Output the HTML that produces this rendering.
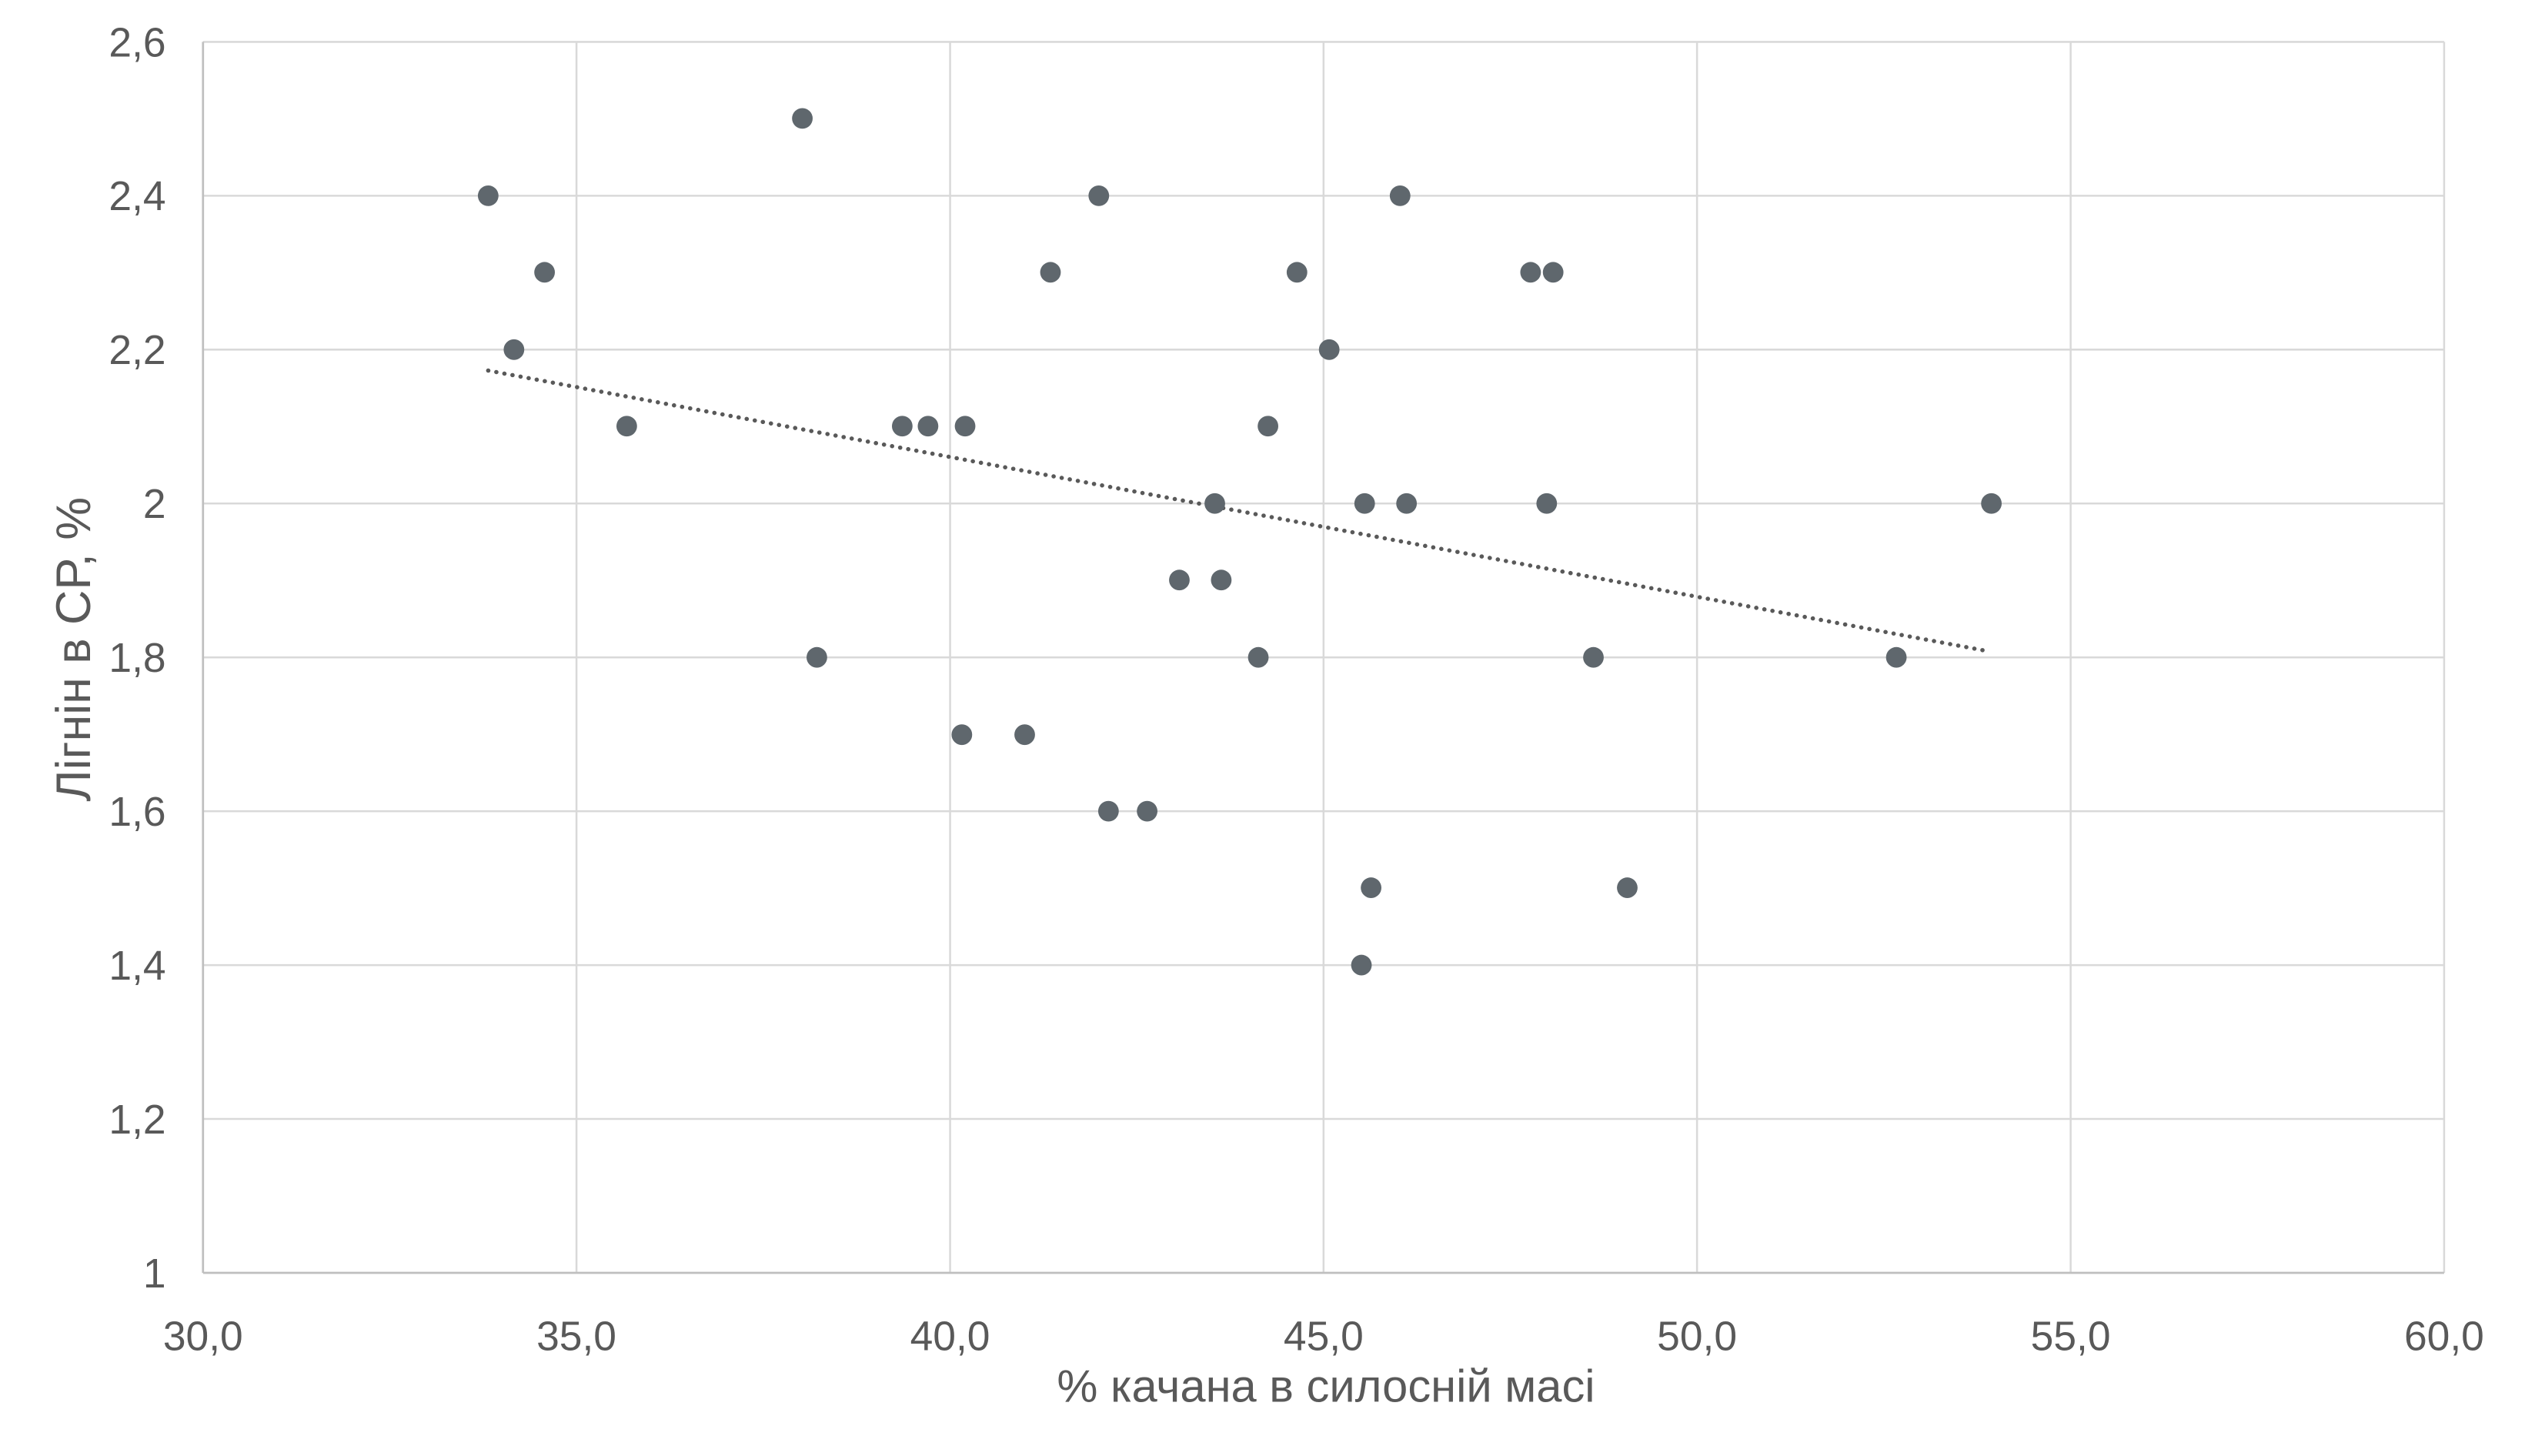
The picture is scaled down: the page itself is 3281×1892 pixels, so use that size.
<!DOCTYPE html>
<html><head><meta charset="utf-8"><style>html,body{margin:0;padding:0;background:#fff}svg{display:block}</style></head><body>
<svg width="3281" height="1892" viewBox="0 0 1567.2 903.7" preserveAspectRatio="none" xmlns="http://www.w3.org/2000/svg" font-family="Liberation Sans, DejaVu Sans, sans-serif" fill="#595959">
<g stroke="#d9d9d9" stroke-width="1.2">
<line x1="126" y1="26" x2="1517" y2="26"/><line x1="126" y1="121.5" x2="1517" y2="121.5"/><line x1="126" y1="217" x2="1517" y2="217"/><line x1="126" y1="312.5" x2="1517" y2="312.5"/><line x1="126" y1="408" x2="1517" y2="408"/><line x1="126" y1="503.5" x2="1517" y2="503.5"/><line x1="126" y1="599" x2="1517" y2="599"/><line x1="126" y1="694.5" x2="1517" y2="694.5"/>
<line x1="357.8" y1="26" x2="357.8" y2="790"/><line x1="589.7" y1="26" x2="589.7" y2="790"/><line x1="821.5" y1="26" x2="821.5" y2="790"/><line x1="1053.3" y1="26" x2="1053.3" y2="790"/><line x1="1285.2" y1="26" x2="1285.2" y2="790"/><line x1="1517" y1="26" x2="1517" y2="790"/>
</g>
<g stroke="#bfbfbf" stroke-width="1.3"><line x1="126" y1="26" x2="126" y2="790"/><line x1="126" y1="790" x2="1517" y2="790"/></g>
<g font-size="25.5" text-anchor="end">
<text x="103" y="35">2,6</text><text x="103" y="130.5">2,4</text><text x="103" y="226">2,2</text><text x="103" y="321.5">2</text><text x="103" y="417">1,8</text><text x="103" y="512.5">1,6</text><text x="103" y="608">1,4</text><text x="103" y="703.5">1,2</text><text x="103" y="799">1</text>
</g>
<g font-size="25.5" text-anchor="middle">
<text x="126" y="838">30,0</text><text x="357.8" y="838">35,0</text><text x="589.7" y="838">40,0</text><text x="821.5" y="838">45,0</text><text x="1053.3" y="838">50,0</text><text x="1285.2" y="838">55,0</text><text x="1517" y="838">60,0</text>
</g>
<g font-size="28.5" text-anchor="middle">
<text x="823" y="870">% качана в силосній масі</text>
<text transform="translate(56,403) rotate(-90)" font-size="30">Лігнін в СР, %</text>
</g>
<line x1="303" y1="230" x2="1233" y2="404" stroke="#595959" stroke-width="2.6" stroke-dasharray="0.1 5" stroke-linecap="round"/>
<g fill="#5f676d">
<circle cx="303" cy="121.5" r="6.4"/><circle cx="338" cy="169" r="6.4"/><circle cx="319" cy="217" r="6.4"/><circle cx="389" cy="264.5" r="6.4"/><circle cx="498" cy="73.5" r="6.4"/><circle cx="507" cy="408" r="6.4"/><circle cx="560" cy="264.5" r="6.4"/><circle cx="576" cy="264.5" r="6.4"/><circle cx="599" cy="264.5" r="6.4"/><circle cx="597" cy="456" r="6.4"/><circle cx="636" cy="456" r="6.4"/><circle cx="652" cy="169" r="6.4"/><circle cx="682" cy="121.5" r="6.4"/><circle cx="688" cy="503.5" r="6.4"/><circle cx="712" cy="503.5" r="6.4"/><circle cx="732" cy="360" r="6.4"/><circle cx="754" cy="312.5" r="6.4"/><circle cx="758" cy="360" r="6.4"/><circle cx="781" cy="408" r="6.4"/><circle cx="787" cy="264.5" r="6.4"/><circle cx="805" cy="169" r="6.4"/><circle cx="825" cy="217" r="6.4"/><circle cx="845" cy="599" r="6.4"/><circle cx="847" cy="312.5" r="6.4"/><circle cx="851" cy="551" r="6.4"/><circle cx="869" cy="121.5" r="6.4"/><circle cx="873" cy="312.5" r="6.4"/><circle cx="950" cy="169" r="6.4"/><circle cx="960" cy="312.5" r="6.4"/><circle cx="964" cy="169" r="6.4"/><circle cx="989" cy="408" r="6.4"/><circle cx="1010" cy="551" r="6.4"/><circle cx="1177" cy="408" r="6.4"/><circle cx="1236" cy="312.5" r="6.4"/>
</g>
</svg>
</body></html>
